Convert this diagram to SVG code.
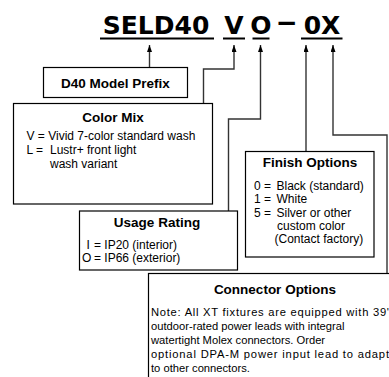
<svg xmlns="http://www.w3.org/2000/svg" width="389" height="377" viewBox="0 0 389 377">
  <style>
    .title { font-family: "DejaVu Sans", "Liberation Sans", sans-serif; font-weight: bold; font-size: 25px; fill: #000; }
    .dash { font-family: "Liberation Sans", Arial, sans-serif; font-weight: bold; font-size: 33px; fill: #000; }
    .ul { stroke: #000; stroke-width: 2; }
    .box { fill: #fff; stroke: #000; stroke-width: 1.2; }
    .head { font-family: "Liberation Sans", Arial, sans-serif; font-weight: bold; font-size: 13.5px; fill: #000; text-anchor: middle; }
    .body { font-family: "Liberation Sans", Arial, sans-serif; font-size: 12px; fill: #000; }
    .note { font-family: "Liberation Sans", Arial, sans-serif; font-size: 11.2px; fill: #000; }
    .conn { fill: none; stroke: #333; stroke-width: 1.4; marker-end: url(#arrow); }
  </style>
  <defs>
    <marker id="arrow" markerUnits="userSpaceOnUse" markerWidth="7" markerHeight="5" viewBox="0 0 7 5" refX="7" refY="2.5" orient="auto">
      <path d="M0,0 L7,2.5 L0,5 z" fill="#000"/>
    </marker>
  </defs>
  <rect width="389" height="377" fill="#fff"/>

  <g id="part-number">
    <text class="title" x="156" y="33.5" text-anchor="middle">SELD40</text>
    <text class="title" x="234" y="33.5" text-anchor="middle">V</text>
    <text class="title" x="261" y="33.5" text-anchor="middle">O</text>
    <text class="dash" x="286.7" y="32.3" text-anchor="middle">–</text>
    <text class="title" x="322" y="33.5" text-anchor="middle">0X</text>
    <line class="ul" x1="100" y1="38.5" x2="214" y2="38.5"/>
    <line class="ul" x1="223" y1="38.5" x2="245" y2="38.5"/>
    <line class="ul" x1="252.5" y1="38.5" x2="269.5" y2="38.5"/>
    <line class="ul" x1="301" y1="38.5" x2="342.5" y2="38.5"/>
  </g>

  <g id="connectors">
    <path class="conn" d="M149.5,67.5 V45"/>
    <path class="conn" d="M203.5,103.5 V69 H234 V45"/>
    <path class="conn" d="M228.5,211 V119 H260.5 V45"/>
    <path class="conn" d="M306,151.5 V45"/>
    <path class="conn" d="M387,273.5 V135 H333 V45"/>
  </g>

  <g id="model-prefix">
    <rect class="box" x="43.5" y="67.5" width="144" height="30"/>
    <text class="head" x="115.5" y="88">D40 Model Prefix</text>
  </g>

  <g id="color-mix">
    <rect class="box" x="13.5" y="103.5" width="199" height="100.5"/>
    <text class="head" x="113" y="121.5">Color Mix</text>
    <text class="body" x="26.5" y="139.5">V = Vivid 7-color standard wash</text>
    <text class="body" y="153.5"><tspan x="26.5">L =</tspan><tspan x="50">Lustr+ front light</tspan></text>
    <text class="body" x="50" y="167.5">wash variant</text>
  </g>

  <g id="usage-rating">
    <rect class="box" x="79.5" y="211" width="158" height="59"/>
    <text class="head" x="157" y="226.5">Usage Rating</text>
    <text class="body" y="248.5"><tspan x="86.5">I</tspan><tspan x="94">= IP20 (interior)</tspan></text>
    <text class="body" y="261.5"><tspan x="82">O</tspan><tspan x="94">= IP66 (exterior)</tspan></text>
  </g>

  <g id="finish-options">
    <rect class="box" x="245.5" y="151.5" width="128.5" height="105.5"/>
    <text class="head" x="310" y="166.5">Finish Options</text>
    <text class="body" y="190"><tspan x="254">0 =</tspan><tspan x="276.5">Black (standard)</tspan></text>
    <text class="body" y="203.3"><tspan x="254">1 =</tspan><tspan x="276.5">White</tspan></text>
    <text class="body" y="216.5"><tspan x="254">5 =</tspan><tspan x="276.5">Silver or other</tspan></text>
    <text class="body" x="277" y="229.8">custom color</text>
    <text class="body" x="274.5" y="243">(Contact factory)</text>
  </g>

  <g id="connector-options">
    <rect class="box" x="148.5" y="273.5" width="260" height="120"/>
    <text class="head" x="275" y="294">Connector Options</text>
    <text class="note" x="151" y="316" textLength="238" lengthAdjust="spacing">Note: All XT fixtures are equipped with 39'</text>
    <text class="note" x="151" y="330">outdoor-rated power leads with integral</text>
    <text class="note" x="151" y="344">watertight Molex connectors.  Order</text>
    <text class="note" x="151" y="358" textLength="238" lengthAdjust="spacing">optional DPA-M power input lead to adapt</text>
    <text class="note" x="151" y="372">to other connectors.</text>
  </g>
</svg>
